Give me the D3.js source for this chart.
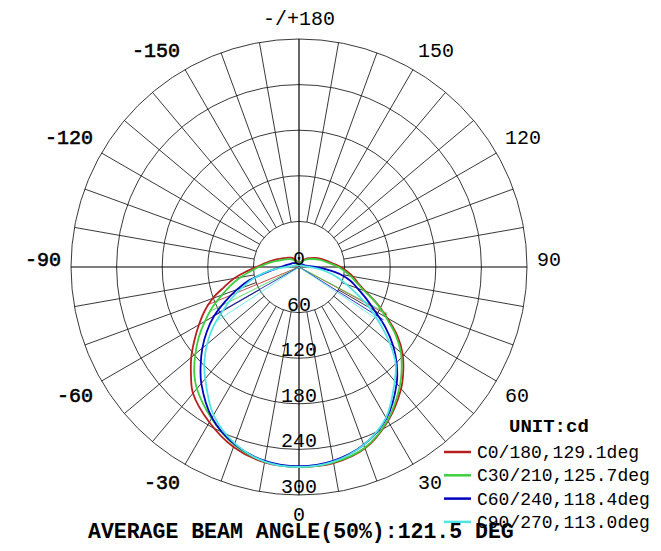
<!DOCTYPE html>
<html>
<head>
<meta charset="utf-8">
<script src="https://cdn.jsdelivr.net/npm/d3@7"></script>
<style>
  body { margin: 0; background: #fff; }
  text { font-family: "Liberation Mono", "Courier New", monospace; fill: #000; }
</style>
</head>
<body>
<script>
// gamma angles (deg) measured from the downward axis
const gammaDeg = [0, 10, 20, 30, 40, 45, 50, 55, 60, 65, 70, 75, 80, 85, 90, 100, 110, 120, 130, 140, 150, 160, 170, 180];

// intensities in cd, right half (C0..C90) and left half (C180..C270)
const c0   = [263, 262, 254, 234, 209, 194, 178, 158, 134, 113, 93, 80, 72, 63, 55, 40, 31, 24, 18, 14, 10, 7, 4, 3];
const c180 = [263, 261, 252, 236, 217, 201, 185, 168, 152, 137, 121, 102, 87, 70, 56, 40, 30, 23, 19, 16, 12, 8, 5, 3];
const c30  = [263, 261, 253, 233, 206, 191, 175, 155, 132, 112, 91, 78, 69, 60, 52, 37, 28, 21, 16, 12, 9, 6, 4, 3];
const c210 = [263, 260, 249, 230, 209, 195, 178, 161, 143, 126, 108, 93, 78, 64, 53, 37, 26, 20, 16, 12, 9, 6, 4, 3];
const c60  = [262, 259, 249, 230, 200, 182, 162, 139, 115, 97, 82, 70, 55, 36, 22, 10, 7, 6, 5, 5, 4, 4, 3, 3];
const c240 = [262, 259, 248, 229, 200, 183, 166, 148, 129, 107, 87, 68, 45, 32, 24, 16, 12, 10, 8, 7, 6, 5, 4, 3];
const c90  = [263, 260, 249, 229, 196, 180, 156, 130, 107, 84, 66, 52, 38, 25, 14, 7, 5, 4, 4, 3, 3, 3, 3, 3];
const c270 = [263, 260, 247, 225, 192, 176, 158, 138, 116, 98, 80, 64, 48, 32, 17, 8, 6, 5, 4, 4, 3, 3, 3, 3];

const planeNames = ["C0/180", "C30/210", "C60/240", "C90/270"];
const beamAngles = [129.1, 125.7, 118.4, 113.0];
const halfRight  = [61.6, 62.2, 58.0, 56.3];
const halfLeft   = [67.5, 63.5, 60.4, 56.7];
const peakCd     = [263, 263, 262, 263];
const colors     = ["#b82020", "#3ecf3e", "#0000c0", "#50e4e4"];

const ringValues  = [0, 60, 120, 180, 240, 300];
const angleLabels = [-150, -120, -90, -60, -30, 0, 30, 60, 90, 120, 150, 180];
const avgBeam = 121.5;

const width = 661, height = 551;
const cx = 299, cy = 267;
const r = d3.scaleLinear().domain([0, 300]).range([0, 228]);
const rad = d => d * Math.PI / 180;

const svg = d3.select("body").append("svg")
  .attr("width", width)
  .attr("height", height);

const g = svg.append("g").attr("transform", `translate(${cx},${cy})`);

// point in chart coords for gamma (deg, + to the right) and intensity
function pt(gam, val) {
  return [r(val) * Math.sin(rad(gam)), r(val) * Math.cos(rad(gam))];
}

// rings
g.selectAll("circle.ring")
  .data(ringValues.slice(1))
  .join("circle")
  .attr("class", "ring")
  .attr("r", d => r(d))
  .attr("fill", "none")
  .attr("stroke", "#222")
  .attr("stroke-width", 0.9);

// spokes every 10 deg, main axes through the centre
const spokes = d3.range(0, 360, 10);
g.selectAll("line.spoke")
  .data(spokes)
  .join("line")
  .attr("class", "spoke")
  .attr("x1", d => pt(d, d % 90 === 0 ? 0 : ringValues[1])[0])
  .attr("y1", d => pt(d, d % 90 === 0 ? 0 : ringValues[1])[1])
  .attr("x2", d => pt(d, 300)[0])
  .attr("y2", d => pt(d, 300)[1])
  .attr("stroke", d => d % 90 === 0 ? "#000" : "#222")
  .attr("stroke-width", d => d % 90 === 0 ? 1.2 : 0.9);

// outer angle labels (left side drawn a bit heavier, like the original)
g.selectAll("text.ang")
  .data(angleLabels)
  .join("text")
  .attr("class", "ang")
  .attr("x", d => pt(d, 313)[0])
  .attr("y", d => {
    const c = Math.cos(rad(d));
    return pt(d, 313)[1] + (c > 0.1 ? 16 : c < -0.1 ? -4 : -1);
  })
  .attr("text-anchor", d => (d === 0 || d === 180) ? "middle" : d < 0 ? "end" : "start")
  .attr("font-size", 20)
  .attr("stroke", d => d < 0 ? "#000" : "none")
  .attr("stroke-width", 0.6)
  .text(d => d === 180 ? "-/+180" : d);

// curves
const planes = [
  { right: c0, left: c180 },
  { right: c30, left: c210 },
  { right: c60, left: c240 },
  { right: c90, left: c270 }
];

const line = d3.line().curve(d3.curveCatmullRom.alpha(0.5));

planes.forEach((p, i) => {
  const pts = [];
  for (let k = gammaDeg.length - 1; k >= 0; k--) pts.push(pt(-gammaDeg[k], p.left[k]));
  for (let k = 1; k < gammaDeg.length; k++) pts.push(pt(gammaDeg[k], p.right[k]));
  g.append("path")
    .attr("d", line(pts))
    .attr("fill", "none")
    .attr("stroke", colors[i])
    .attr("stroke-width", 1.8);

  // beam angle lines to the 50% points
  [-halfLeft[i], halfRight[i]].forEach(a => {
    const e = pt(a, peakCd[i] / 2);
    g.append("line")
      .attr("x1", 0).attr("y1", 0)
      .attr("x2", e[0]).attr("y2", e[1])
      .attr("stroke", colors[i])
      .attr("stroke-width", 0.8);
  });
});

// ring value labels
g.selectAll("text.ringlbl")
  .data(ringValues)
  .join("text")
  .attr("class", "ringlbl")
  .attr("x", 0)
  .attr("y", d => r(d) - 2)
  .attr("text-anchor", "middle")
  .attr("font-size", 20)
  .text(d => d);

// legend
svg.append("text")
  .attr("x", 509).attr("y", 432)
  .attr("font-size", 19)
  .attr("font-weight", 700)
  .text("UNIT:cd");

const legend = svg.selectAll("g.leg")
  .data(planeNames)
  .join("g")
  .attr("class", "leg")
  .attr("transform", (d, i) => `translate(0,${452 + i * 23.3})`);

legend.append("line")
  .attr("x1", 444).attr("x2", 471)
  .attr("stroke", (d, i) => colors[i])
  .attr("stroke-width", 2.5);

legend.append("text")
  .attr("x", 477).attr("y", 6)
  .attr("font-size", 18)
  .text((d, i) => `${d},${beamAngles[i].toFixed(1)}deg`);

svg.append("text")
  .attr("x", 88).attr("y", 538)
  .attr("font-size", 21.5)
  .attr("font-weight", 700)
  .text(`AVERAGE BEAM ANGLE(50%):${avgBeam} DEG`);
</script>
</body>
</html>
